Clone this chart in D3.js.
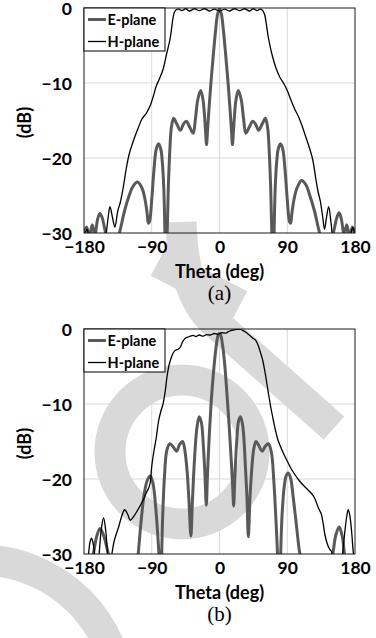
<!DOCTYPE html>
<html>
<head>
<meta charset="utf-8">
<script src="https://cdn.jsdelivr.net/npm/d3@7"></script>
<style>
  body { margin: 0; background: #fff; }
</style>
</head>
<body>
<div id="chart"></div>
<script>
// Axis ticks and labels
const xTicks = [-180, -90, 0, 90, 180]
const xTickLabels = ['−180', '−90', '0', '90', '180']
const yTicks = [0, -10, -20, -30]
const yTickLabels = ['0', '−10', '−20', '−30']
const legendNames = ['E-plane', 'H-plane']
const panelNames = ['(a)', '(b)']

// (a) patterns: [theta deg, dB]
const ePlaneA = [
  [-180, -30], [-176.5, -29.2], [-173, -30.5], [-169, -28.9], [-165.5, -30.3], [-162, -28.2],
  [-159, -27.4], [-156, -27.9], [-153, -29.2], [-150.5, -30.4], [-146, -33], [-140, -35],
  [-134, -30.5], [-131, -29.2], [-126, -27], [-120, -25], [-115, -23.8], [-109, -23.2],
  [-103, -24], [-99, -25.5], [-96, -27.5], [-94.5, -28.7], [-93, -28.5], [-90, -25.5],
  [-87, -21.5], [-84, -18.8], [-81, -18.1], [-78, -18.8], [-76, -20.5], [-74, -24],
  [-72.5, -30], [-71, -37], [-69.5, -30], [-68, -24], [-66, -19], [-64, -16],
  [-61, -14.7], [-57, -15.4], [-52, -16.3], [-48, -15.5], [-44, -15.1], [-40, -15.8],
  [-35, -16.7], [-32, -14.8], [-29, -12.3], [-25, -11], [-22, -12.2], [-20, -14.2],
  [-18.5, -16.5], [-17.2, -18.2], [-16, -16.5], [-14, -13.5], [-11, -9.5], [-8, -6],
  [-5, -2.8], [-2.5, -0.8], [0, -0.1],
  [2.5, -0.8], [5, -2.8], [8, -6], [11, -9.5], [14, -13.5], [16, -16.5],
  [17.2, -18.2], [18.5, -16.5], [20, -14.2], [22, -12.2], [25, -11], [29, -12.3],
  [32, -14.8], [35, -16.7], [40, -15.8], [44, -15.1], [48, -15.5], [52, -16.3],
  [57, -15.4], [61, -14.7], [64, -16], [66, -19], [68, -24], [69.5, -30],
  [71, -37], [72.5, -30], [74, -24], [76, -20.5], [78, -18.8], [81, -18.1],
  [84, -18.8], [87, -21.5], [90, -25.5], [93, -28.5], [94.5, -28.7], [96, -27.5],
  [99, -25.5], [103, -24], [109, -23], [115, -23.6], [120, -25], [126, -27],
  [131, -29.2], [134, -30.5], [140, -35], [146, -33], [150.5, -30.4], [153, -29.2],
  [156, -27.9], [159, -27.3], [162, -28.2], [165.5, -30.3], [169, -28.9], [173, -30.5],
  [176.5, -29.2], [180, -30]
]

const hPlaneA = [
  [-180, -31], [-176, -29.5], [-172, -31.5], [-165, -34], [-158, -33], [-152, -31],
  [-148, -28], [-145.5, -26.5], [-142, -28], [-139, -29.2], [-135, -27], [-132, -26],
  [-128, -24], [-124, -21.5], [-120, -19.5], [-114, -17.6], [-108, -16], [-103, -14.8],
  [-97, -14], [-92, -13], [-88, -11.8], [-84, -10.4], [-80, -9.5], [-75, -8.2],
  [-70, -6], [-66, -4.3], [-64, -3], [-62, -1.5], [-60, -0.6], [-57, -0.2],
  [-54, -0.15], [-50, -0.35], [-45, -0.1], [-40, -0.4], [-33, -0.1], [-27, -0.35],
  [-20, -0.1], [-13, -0.4], [-7, -0.15], [0, -0.4], [7, -0.15], [13, -0.4],
  [20, -0.1], [27, -0.35], [33, -0.1], [40, -0.4], [45, -0.1], [50, -0.35],
  [54, -0.15], [57, -0.3], [60, -0.9], [62, -2], [65, -4], [70, -6.3],
  [75, -8], [80, -9.2], [85, -10], [90, -11], [95, -12.3], [100, -13.5],
  [105, -14.5], [110, -15.8], [115, -17.3], [120, -18.8], [124, -20.3], [128, -22.8],
  [131, -24.5], [134, -25.8], [137, -27.8], [139.5, -29.5], [142, -28], [145, -26.5],
  [148, -28.5], [151, -31], [160, -34], [170, -33], [174, -30.5], [177, -29.3], [180, -30.5]
]

// (b) patterns: [theta deg, dB]
const ePlaneB = [
  [-180, -33], [-172, -32], [-167.6, -30], [-163, -27.6], [-158.7, -26.6], [-154, -27.5],
  [-150, -29], [-147.7, -30], [-144, -33], [-130, -38], [-112, -34], [-108, -30],
  [-104, -25.5], [-100, -22], [-96, -20.2], [-92, -19.6], [-88.5, -20.5], [-85, -23.5],
  [-82, -27.5], [-80, -31], [-78.5, -37], [-77, -31], [-75.5, -25], [-73, -19.5],
  [-70, -16.2], [-66, -15.3], [-61, -15.8], [-57, -16.3], [-53, -15.4], [-49, -15],
  [-46, -16.2], [-43, -19], [-40.5, -23], [-38, -27.6], [-36, -23], [-33, -17],
  [-30, -13.2], [-27, -11.7], [-24, -12.5], [-21.5, -15.5], [-19.5, -19], [-17.5, -23.5],
  [-16, -19.5], [-13.5, -14], [-11, -9.7], [-8, -5.8], [-5, -2.8], [-2.5, -1.1],
  [-0.5, -0.6], [1.5, -0.8], [4, -2.1], [7, -4.8], [10, -8.8], [13, -13.2],
  [15.5, -17.3], [17.5, -21], [18.8, -23.6], [20.5, -19.5], [23, -14.8], [25.5, -12.2],
  [28, -11.7], [31, -13], [34, -17.5], [36.5, -22.5], [38.3, -27.7], [40.5, -22.5],
  [43, -18.5], [45.5, -16], [48.5, -15], [52, -15.5], [56.7, -16.3], [61, -15.6],
  [65, -15.3], [69, -16.5], [72, -20], [75, -25.5], [77.5, -31], [79.4, -37],
  [81, -31], [83, -25], [86, -21], [88.5, -19.6], [91.4, -19.2], [94.5, -19.9],
  [98, -22.5], [102, -26], [106, -29.5], [109, -31], [115, -35], [130, -38],
  [145, -33], [150.6, -30], [154.5, -27.5], [159, -26.4], [163, -27.6], [166, -30],
  [170, -33], [180, -34]
]

const hPlaneB = [
  [-180, -31], [-177, -32], [-174, -30], [-172, -28.4], [-170, -27.9], [-168, -28.5],
  [-166, -30], [-163, -32], [-160, -30], [-157, -26.7], [-154, -25.2], [-151, -27],
  [-148.5, -30], [-146, -31.5], [-143, -30], [-140, -28.3], [-137, -27.3], [-134, -26.4],
  [-130, -25], [-126, -24.1], [-122, -24.7], [-118.5, -25.5], [-114, -25], [-109, -24.2],
  [-104, -23.3], [-100, -22.5], [-97, -21.8], [-94, -21.2], [-92, -20.5], [-90, -18.3],
  [-87, -16.2], [-84, -14.5], [-81, -12.3], [-78, -11], [-75, -10], [-72, -8.2],
  [-69.5, -6.2], [-67, -4.8], [-64, -3.8], [-61, -3.1], [-58, -2.8], [-55, -2.7],
  [-52, -2.4], [-49, -1.7], [-45, -1.2], [-40, -1], [-35, -0.85], [-31, -1],
  [-27, -0.8], [-22, -0.95], [-17, -0.75], [-12, -0.8], [-7, -0.6], [-2, -0.7],
  [3, -0.5], [8, -0.55], [13, -0.3], [18, -0.15], [23, -0.05], [28, -0.05],
  [32, -0.25], [36, -0.5], [40, -0.85], [44, -1.2], [48, -1.5], [51, -2.1],
  [54, -3], [57, -4], [60, -5.5], [63, -7.3], [66, -9.2], [69, -10.9],
  [72, -12.4], [75, -13.8], [78, -14.9], [82, -15.9], [86, -16.8], [90, -17.6],
  [95, -18.6], [100, -19.4], [105, -20.1], [110, -20.7], [115, -21.2], [120, -21.7],
  [125, -22.3], [129, -23.2], [132, -24], [135, -24.6], [137.5, -25.8], [140, -27.4],
  [143, -28.6], [146, -29.3], [149, -29.7], [151, -31], [154, -33], [158, -34],
  [161, -32], [163.5, -30], [166, -27.5], [169, -25], [171, -24.1], [173, -24.8],
  [175.5, -27], [178, -30], [180, -31]
]

const panels = [
  { top: 8, e: ePlaneA, h: hPlaneA, name: panelNames[0] },
  { top: 329, e: ePlaneB, h: hPlaneB, name: panelNames[1] }
]

const width = 376
const height = 638
const left = 84
const right = 355
const plotH = 225
const tickFont = 'Lato, "Open Sans", sans-serif'

const svg = d3
  .select('#chart')
  .append('svg')
  .attr('width', width)
  .attr('height', height)

// light grey watermark behind everything
const wm = svg.append('g').attr('fill', 'none').attr('stroke', '#d9d9d9').attr('stroke-width', 31)
wm.append('path').attr('d', 'M181,222 Q183,292 212,320 L334,428')
wm.append('path').attr('d', 'M158,262 L240,305')
wm.append('circle').attr('cx', 182).attr('cy', 452).attr('r', 72)
wm.append('circle').attr('cx', -20).attr('cy', 700).attr('r', 140)

const x = d3.scaleLinear().domain([-180, 180]).range([left, right])

panels.forEach((p, i) => {
  const y = d3.scaleLinear().domain([-30, 0]).range([p.top + plotH, p.top])
  const g = svg.append('g')

  // grid
  g.selectAll('.vgrid')
    .data(xTicks.slice(1, -1))
    .enter()
    .append('line')
    .attr('x1', (d) => x(d))
    .attr('x2', (d) => x(d))
    .attr('y1', p.top)
    .attr('y2', p.top + plotH)
    .attr('stroke', '#d9d9d9')
  g.selectAll('.hgrid')
    .data(yTicks.slice(1, -1))
    .enter()
    .append('line')
    .attr('x1', left)
    .attr('x2', right)
    .attr('y1', (d) => y(d))
    .attr('y2', (d) => y(d))
    .attr('stroke', '#d9d9d9')

  // curves, clipped to plot area
  g.append('clipPath')
    .attr('id', 'clip' + i)
    .append('rect')
    .attr('x', left)
    .attr('y', p.top)
    .attr('width', right - left)
    .attr('height', plotH)

  const line = d3
    .line()
    .x((d) => x(d[0]))
    .y((d) => y(d[1]))
    .curve(d3.curveCatmullRom.alpha(0.5))

  const curves = g.append('g').attr('clip-path', `url(#clip${i})`)
  curves
    .append('path')
    .datum(p.e)
    .attr('fill', 'none')
    .attr('stroke', '#595959')
    .attr('stroke-width', 3)
    .attr('d', line)
  curves
    .append('path')
    .datum(p.h)
    .attr('fill', 'none')
    .attr('stroke', '#000')
    .attr('stroke-width', 1.3)
    .attr('d', line)

  // frame
  g.append('rect')
    .attr('x', left)
    .attr('y', p.top)
    .attr('width', right - left)
    .attr('height', plotH)
    .attr('fill', 'none')
    .attr('stroke', '#1a1a1a')
    .attr('stroke-width', 1)

  // axes
  const xAxis = g
    .append('g')
    .attr('transform', `translate(0,${p.top + plotH})`)
    .call(
      d3
        .axisBottom(x)
        .tickValues(xTicks)
        .tickSize(0)
        .tickFormat((d, k) => xTickLabels[k])
    )
  xAxis.select('.domain').remove()
  xAxis
    .selectAll('text')
    .attr('dy', null)
    .attr('y', 20)
    .attr('fill', '#000')
    .style('font', `bold 17.5px ${tickFont}`)

  const yAxis = g
    .append('g')
    .attr('transform', `translate(${left},0)`)
    .call(
      d3
        .axisLeft(y)
        .tickValues(yTicks)
        .tickSize(0)
        .tickPadding(12)
        .tickFormat((d, k) => yTickLabels[k])
    )
  yAxis.select('.domain').remove()
  yAxis
    .selectAll('text')
    .attr('fill', '#000')
    .attr('dy', '0.36em')
    .style('font', `bold 17.5px ${tickFont}`)

  // titles
  g.append('text')
    .attr('x', x(0))
    .attr('y', p.top + plotH + 45)
    .attr('text-anchor', 'middle')
    .style('font', `bold 18px ${tickFont}`)
    .text('Theta (deg)')
  g.append('text')
    .attr('transform', `translate(31,${p.top + plotH / 2 + 2}) rotate(-90)`)
    .attr('text-anchor', 'middle')
    .style('font', `bold 18px ${tickFont}`)
    .text('(dB)')
  g.append('text')
    .attr('x', x(0))
    .attr('y', p.top + plotH + 67)
    .attr('text-anchor', 'middle')
    .style('font', '21px "Liberation Serif", "Times New Roman", serif')
    .text(p.name)

  // legend
  const lg = g.append('g').attr('transform', `translate(${left},${p.top})`)
  lg.append('rect')
    .attr('width', 81)
    .attr('height', 43)
    .attr('fill', '#fff')
    .attr('stroke', '#000')
    .attr('stroke-width', 1)
  legendNames.forEach((name, k) => {
    const ly = 11.5 + k * 22
    lg.append('line')
      .attr('x1', 4)
      .attr('x2', 22)
      .attr('y1', ly)
      .attr('y2', ly)
      .attr('stroke', k === 0 ? '#595959' : '#000')
      .attr('stroke-width', k === 0 ? 3 : 1.3)
    lg.append('text')
      .attr('x', 23.5)
      .attr('y', ly + 5)
      .style('font', `bold 14.5px ${tickFont}`)
      .text(name)
  })
})
</script>
</body>
</html>
